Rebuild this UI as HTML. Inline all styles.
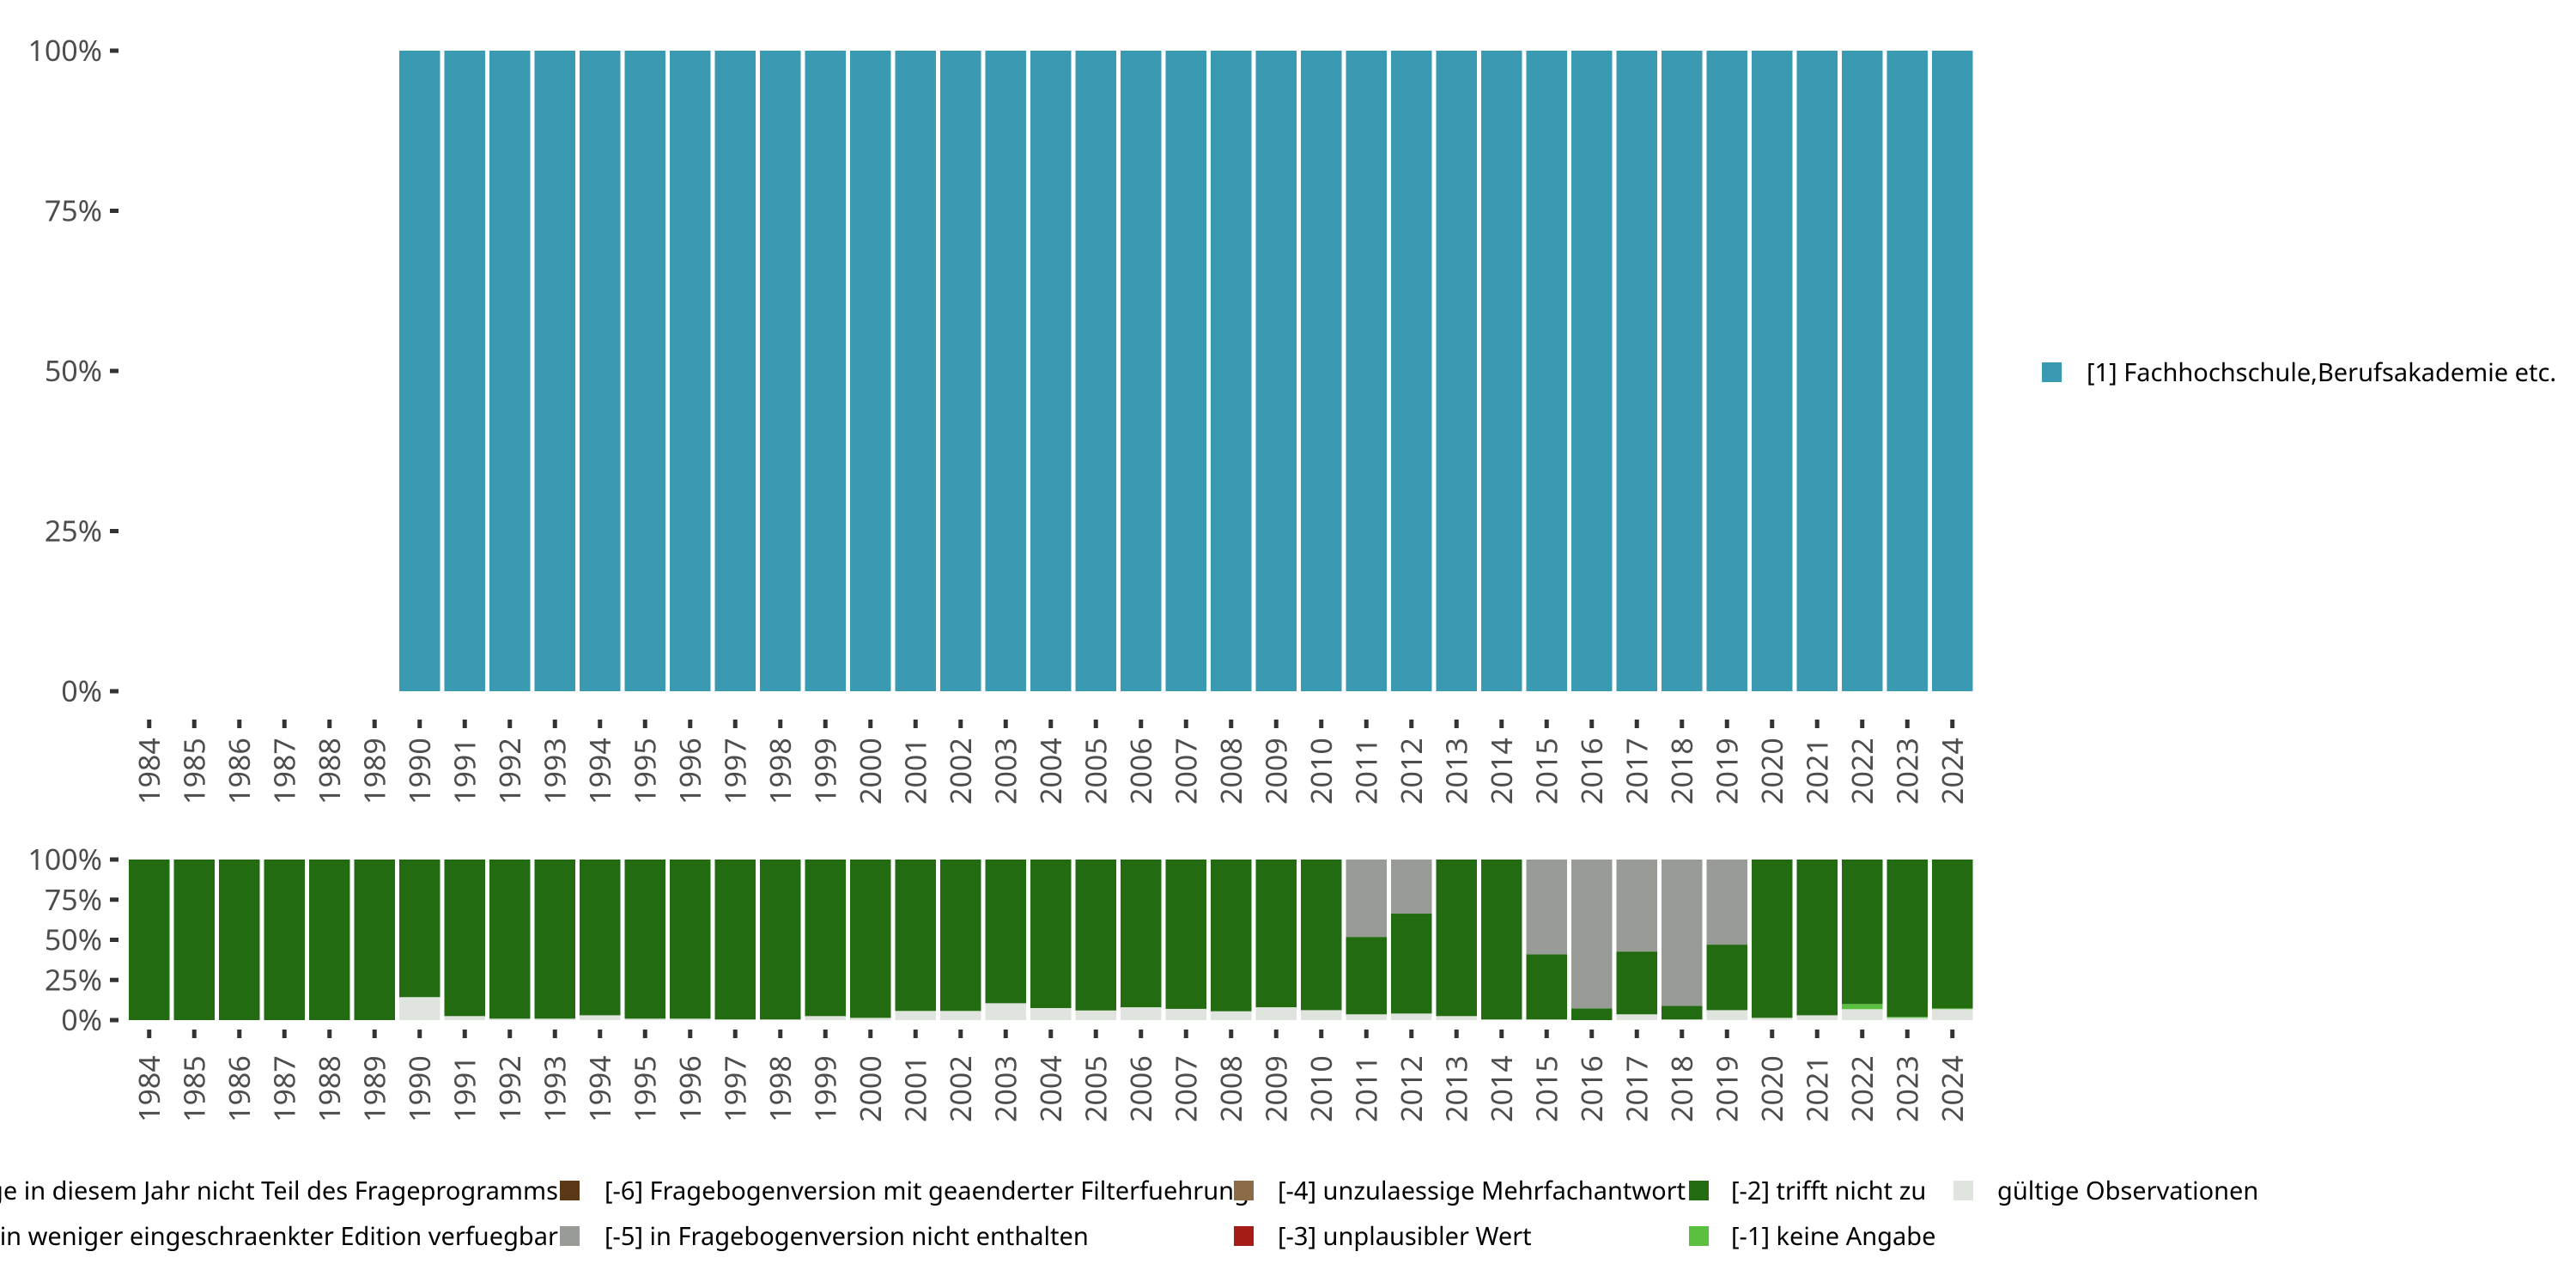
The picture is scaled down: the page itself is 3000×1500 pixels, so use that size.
<!DOCTYPE html>
<html><head><meta charset="utf-8">
<style>
html,body{margin:0;padding:0;background:#fff;}
svg{display:block;font-family:"Noto Sans","Liberation Sans","DejaVu Sans",sans-serif;}
</style></head>
<body>
<svg id="chart" width="3000" height="1500" viewBox="0 0 3000 1500" xmlns="http://www.w3.org/2000/svg">
<g id="top"></g>
<g id="bottom"></g>
<g id="legend-right">
  <rect x="2378" y="422" width="23" height="23" fill="#3a9ab2"/>
  <text x="2430" y="444" font-size="29" fill="#000">[1] Fachhochschule,Berufsakademie etc.</text>
</g>
<g id="legend-bottom" font-size="29" fill="#000">
  <text x="650" y="1397" text-anchor="end">[-8] Frage in diesem Jahr nicht Teil des Frageprogramms</text>
  <text x="650" y="1450" text-anchor="end">[-7] Nur in weniger eingeschraenkter Edition verfuegbar</text>
  <rect x="652" y="1375" width="23" height="23" fill="#5a3818"/>
  <text x="704" y="1397">[-6] Fragebogenversion mit geaenderter Filterfuehrung</text>
  <rect x="652" y="1428" width="23" height="23" fill="#999c96"/>
  <text x="704" y="1450">[-5] in Fragebogenversion nicht enthalten</text>
  <rect x="1437" y="1375" width="23" height="23" fill="#8c6b47"/>
  <text x="1488" y="1397">[-4] unzulaessige Mehrfachantwort</text>
  <rect x="1437" y="1428" width="23" height="23" fill="#a51c17"/>
  <text x="1488" y="1450">[-3] unplausibler Wert</text>
  <rect x="1967" y="1375" width="23" height="23" fill="#226b10"/>
  <text x="2016" y="1397">[-2] trifft nicht zu</text>
  <rect x="1967" y="1428" width="23" height="23" fill="#5bbf40"/>
  <text x="2016" y="1450">[-1] keine Angabe</text>
  <rect x="2275" y="1375" width="23" height="23" fill="#e0e4df"/>
  <text x="2326" y="1397">gültige Observationen</text>
</g>
</svg>
<script>
const years = [1984,1985,1986,1987,1988,1989,1990,1991,1992,1993,1994,1995,1996,1997,1998,1999,2000,2001,2002,2003,2004,2005,2006,2007,2008,2009,2010,2011,2012,2013,2014,2015,2016,2017,2018,2019,2020,2021,2022,2023,2024];
const topShare = [0,0,0,0,0,0,100,100,100,100,100,100,100,100,100,100,100,100,100,100,100,100,100,100,100,100,100,100,100,100,100,100,100,100,100,100,100,100,100,100,100];
const validShare = [0,0,0,0,0,0,14.3,2.5,0.9,0.9,3,0.9,0.9,0.4,0.4,2.5,1.4,5.7,5.7,10.5,7.5,6,8,7,5.5,8,6.2,3.6,4.1,2.5,0.4,0.4,0,3.6,0.4,6.2,1.4,3,6.8,1.4,6.8];
const keineShare = [0,0,0,0,0,0,0,0,0,0,0,0,0,0,0,0,0,0,0,0,0,0,0,0,0,0,0,0,0,0,0,0,0,0,0,0,0,0,3.2,0.6,0.5];
const trifftShare = [100,100,100,100,100,100,85.7,97.5,99.1,99.1,97,99.1,99.1,99.6,99.6,97.5,98.6,94.3,94.3,89.5,92.5,94,92,93,94.5,92,93.8,48.2,62.2,97.5,99.6,40.6,7.3,39.1,8.5,40.8,98.6,97,90,98,92.7];
const fehltShare = [0,0,0,0,0,0,0,0,0,0,0,0,0,0,0,0,0,0,0,0,0,0,0,0,0,0,0,48.2,33.7,0,0,59,92.7,57.3,91.1,53,0,0,0,0,0];
const yTicks = [0,25,50,75,100];
const yTickLabels = ['0%','25%','50%','75%','100%'];

const NS='http://www.w3.org/2000/svg';
const x0=147.5, slot=52.5, bw=47.5;
function xPos(i){return x0+i*slot;}
function mk(tag,attrs,parent){const e=document.createElementNS(NS,tag);for(const k in attrs)e.setAttribute(k,attrs[k]);parent.appendChild(e);return e;}

function panel(g,yTop,yBot,tickY,labelBase,name){
  const ys=v=>yBot-(v/100)*(yBot-yTop);
  yTicks.forEach((t,i)=>{
    const tk=mk('rect',{x:128,y:ys(t)-2.5,width:10,height:5,fill:'#333'},g);
    
    
    const tx=mk('text',{x:119,y:ys(t)+12,'text-anchor':'end','font-size':34,fill:'#4d4d4d'},g);
    tx.textContent=yTickLabels[i];
    
    
  });
  years.forEach((yr,i)=>{
    const cx=xPos(i)+slot/2;
    const tk=mk('rect',{x:cx-2.5,y:tickY,width:5,height:10,fill:'#333'},g);
    
    
    const tx=mk('text',{x:0,y:0,'font-size':34,fill:'#4d4d4d',transform:`translate(${cx+12},${labelBase}) rotate(-90)`},g);
    tx.textContent=yr;
    
    
  });
  return ys;
}

const topG=document.getElementById('top');
const ysT=panel(topG,59,805,838,937,'top');
years.forEach((yr,i)=>{
  if(topShare[i]<=0)return;
  const r=mk('rect',{x:xPos(i)+(slot-bw)/2,y:ysT(topShare[i]),width:bw,height:ysT(0)-ysT(topShare[i]),fill:'#3a9ab2'},topG);
  
  
});

const botG=document.getElementById('bottom');
const ysB=panel(botG,1001,1188,1199,1307,'bottom');
const series=[[validShare,'#e0e4df','valid'],[keineShare,'#5bbf40','keine-angabe'],[trifftShare,'#226b10','trifft-nicht-zu'],[fehltShare,'#999c96','nicht-enthalten']];
years.forEach((yr,i)=>{
  let acc=0;
  series.forEach(s=>{
    const v=s[0][i];
    if(v<=0)return;
    const r=mk('rect',{x:xPos(i)+(slot-bw)/2,y:ysB(acc+v),width:bw,height:ysB(acc)-ysB(acc+v),fill:s[1]},botG);
    
    
    acc+=v;
  });
});
</script>
</body></html>
